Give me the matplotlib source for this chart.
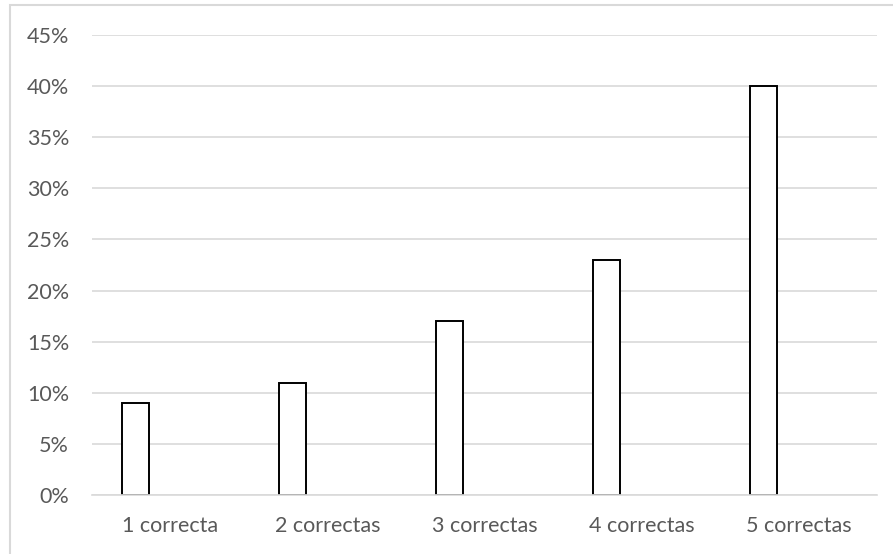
import matplotlib
matplotlib.use("Agg")
import matplotlib.pyplot as plt
from matplotlib.ticker import FuncFormatter
from matplotlib.patches import Rectangle

categories = ["1 correcta", "2 correctas", "3 correctas", "4 correctas", "5 correctas"]
values = [0.09, 0.11, 0.17, 0.23, 0.40]
yticks = [0, 0.05, 0.10, 0.15, 0.20, 0.25, 0.30, 0.35, 0.40, 0.45]

plt.rcParams['font.family'] = ['Lato', 'DejaVu Sans']

fig = plt.figure(figsize=(8.93, 5.54), dpi=100)
ax = fig.add_axes([92/893, 1-495/554, (877-92)/893, (495-35)/554])

x = list(range(len(categories)))
ax.bar([i - 0.223 for i in x], values, width=0.178, facecolor='white',
       edgecolor='black', linewidth=1.4, zorder=3)

ax.set_xlim(-0.5, len(categories) - 0.5)
ax.set_ylim(0, 0.45)
ax.set_yticks(yticks)
ax.yaxis.set_major_formatter(FuncFormatter(lambda v, p: f"{v*100:.0f}%"))
ax.set_xticks(x)
ax.set_xticklabels(categories)
ax.grid(axis='y', color='#d9d9d9', linewidth=1.2, zorder=0)
for s in ['top', 'right', 'left']:
    ax.spines[s].set_visible(False)
ax.spines['bottom'].set_color('#d9d9d9')
ax.spines['bottom'].set_linewidth(1.2)
ax.spines['bottom'].set_zorder(4)
ax.tick_params(axis='both', length=0, labelsize=15.5, colors='#595959')
ax.tick_params(axis='y', pad=16.5)
ax.tick_params(axis='x', pad=15)

fig.patches.append(Rectangle((10/893, -0.1), 1.2, 1 - 5/554 + 0.1, transform=fig.transFigure,
                             fill=False, edgecolor='#d9d9d9', linewidth=1.5))

fig.savefig("out.png", dpi=100)
